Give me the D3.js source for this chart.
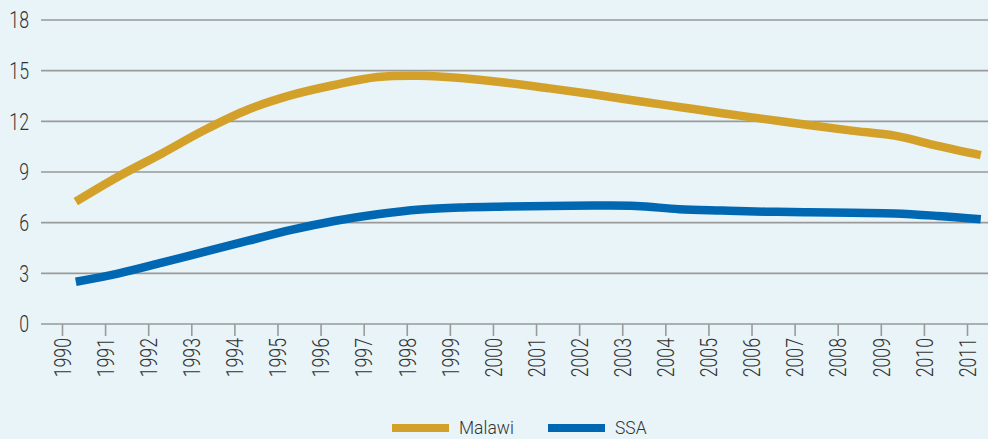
<!DOCTYPE html>
<html>
<head>
<meta charset="utf-8">
<script src="https://cdn.jsdelivr.net/npm/d3@7"></script>
<style>
  html, body { margin: 0; padding: 0; background: #E8F4F8; }
  svg { display: block; }
  text { font-family: Roboto, "DejaVu Sans Condensed", sans-serif; font-weight: 300; fill: #333; }
</style>
</head>
<body>
<svg id="chart" width="988" height="439"></svg>
<script>
// ---- data ----
const years = [1990, 1991, 1992, 1993, 1994, 1995, 1996, 1997, 1998, 1999, 2000,
               2001, 2002, 2003, 2004, 2005, 2006, 2007, 2008, 2009, 2010, 2011];
const malawi = [7.25, 8.75, 10.1, 11.5, 12.7, 13.55, 14.15, 14.62, 14.7, 14.55, 14.28,
                13.95, 13.6, 13.22, 12.85, 12.48, 12.13, 11.78, 11.45, 11.15, 10.55, 10.0];
const ssa = [2.5, 3.0, 3.63, 4.28, 4.93, 5.57, 6.1, 6.5, 6.78, 6.9, 6.95,
             6.99, 7.01, 6.99, 6.8, 6.72, 6.65, 6.62, 6.58, 6.55, 6.4, 6.2];
const yTicks = [0, 3, 6, 9, 12, 15, 18];
const seriesNames = ["Malawi", "SSA"];
const seriesColors = ["#D3A12A", "#0068B3"];

// ---- layout ----
const svg = d3.select("#chart");
const gridLeft = 41, gridRight = 988;
const pointOffset = 0.32; // data points sit a little past each year tick
const narrow = 0.77;      // condensed look for axis labels

const x = d3.scaleLinear().domain([1990, 2011]).range([62, 967]);
const y = d3.scaleLinear().domain([0, 18]).range([324, 20]);

// gridlines
svg.append("g").selectAll("line")
  .data(yTicks)
  .join("line")
  .attr("x1", gridLeft).attr("x2", gridRight)
  .attr("y1", d => y(d)).attr("y2", d => y(d))
  .attr("stroke", "#9a9a9a").attr("stroke-width", 1.6);

// y labels
svg.append("g").selectAll("text")
  .data(yTicks)
  .join("text")
  .attr("transform", d => `translate(29,${y(d)}) scale(${narrow},1)`)
  .attr("dy", "0.36em")
  .attr("text-anchor", "end")
  .style("font-size", "23px")
  .text(d => d);

// x axis ticks and labels
const xAxis = d3.axisBottom(x)
  .tickValues(years)
  .tickFormat(d3.format("d"))
  .tickSize(12)
  .tickSizeOuter(0);
const gx = svg.append("g").attr("transform", `translate(0,${y(0)})`).call(xAxis);
gx.select(".domain").remove();
gx.selectAll(".tick line").attr("stroke", "#9a9a9a").attr("stroke-width", 1.6);
gx.selectAll(".tick text")
  .attr("transform", `rotate(-90) scale(${narrow},1)`)
  .attr("x", -14 / narrow).attr("y", 0).attr("dy", "0.36em")
  .attr("text-anchor", "end")
  .style("font-size", "23px")
  .style("font-family", "Roboto, \"DejaVu Sans Condensed\", sans-serif")
  .style("font-weight", 300)
  .attr("fill", "#333");

// lines
const line = d3.line()
  .x((d, i) => x(years[i] + pointOffset))
  .y(d => y(d))
  .curve(d3.curveCatmullRom.alpha(0.5));

[malawi, ssa].forEach((s, k) => {
  svg.append("path")
    .datum(s)
    .attr("d", line)
    .attr("fill", "none")
    .attr("stroke", seriesColors[k])
    .attr("stroke-width", 8.5)
    .attr("stroke-linecap", "butt")
    .attr("stroke-linejoin", "round");
});

// legend
const legendX = [392, 548];
const lg = svg.append("g");
seriesNames.forEach((name, k) => {
  lg.append("line")
    .attr("x1", legendX[k]).attr("x2", legendX[k] + 57)
    .attr("y1", 428).attr("y2", 428)
    .attr("stroke", seriesColors[k]).attr("stroke-width", 8);
  lg.append("text")
    .attr("transform", `translate(${legendX[k] + 67},434) scale(0.92,1)`)
    .style("font-size", "19px")
    .text(name);
});
</script>
</body>
</html>
